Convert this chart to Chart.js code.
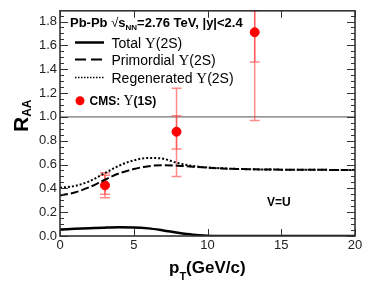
<!DOCTYPE html>
<html>
<head>
<meta charset="utf-8">
<script src="https://cdn.jsdelivr.net/npm/chart.js@4.4.1/dist/chart.umd.min.js"></script>
<style>
    html, body { margin: 0; padding: 0; background: #fff; }
    canvas { display: block; }
</style>
</head>
<body>
<canvas id="raaChart" width="374" height="296"></canvas>
<script>
// pT grid (GeV/c) for the model curves
const ptGrid = [0, 1, 2, 3, 4, 5, 6, 7, 8, 9, 10, 11, 12, 13, 14, 15, 16, 17, 18, 19, 20];
const totalY2S = [0.055, 0.060, 0.065, 0.070, 0.073, 0.072, 0.064, 0.047, 0.027, 0.011, 0.003, 0.0005, 0, 0, 0, 0, 0, 0, 0, 0, 0];
const primordialY2S = [0.340, 0.365, 0.410, 0.470, 0.525, 0.562, 0.586, 0.594, 0.590, 0.581, 0.573, 0.567, 0.563, 0.560, 0.558, 0.557, 0.556, 0.555, 0.555, 0.554, 0.554];
const regeneratedY2S = [0.405, 0.420, 0.460, 0.525, 0.590, 0.635, 0.655, 0.648, 0.612, 0.588, 0.575, 0.568, 0.563, 0.560, 0.558, 0.557, 0.556, 0.555, 0.555, 0.554, 0.554];

// CMS Upsilon(1S) points with two sets of error bars
const cmsPt = [3.05, 7.9, 13.2];
const cmsRaa = [0.425, 0.875, 1.71];
const cmsOuterLow = [0.32, 0.50, 0.97];
const cmsOuterHigh = [0.53, 1.24, 1.89];
const cmsInnerLow = [0.35, 0.73, 1.46];
const cmsInnerHigh = [0.51, 1.01, 1.97];

const yTicks = [0, 0.2, 0.4, 0.6, 0.8, 1.0, 1.2, 1.4, 1.6, 1.8];
const xTicks = [0, 5, 10, 15, 20];

const SANS = '"Liberation Sans", Arial, sans-serif';
const SERIF = '"Liberation Serif", "Times New Roman", serif';

// draw a run of text pieces, each with its own font / vertical offset
function drawRich(ctx, x, y, parts) {
    let cx = x;
    parts.forEach(p => {
        ctx.font = p.font;
        ctx.fillText(p.t, cx, y + (p.dy || 0));
        cx += ctx.measureText(p.t).width + (p.gap || 0);
    });
    return cx;
}

const framePlugin = {
    id: 'frame',
    beforeDatasetsDraw(chart) {
        const ctx = chart.ctx;
        const area = chart.chartArea;
        const xs = chart.scales.x, ys = chart.scales.y;
        ctx.save();
        ctx.beginPath();
        ctx.rect(area.left, area.top, area.right - area.left, area.bottom - area.top);
        ctx.clip();

        // reference line at 1
        ctx.strokeStyle = '#9a9a9a';
        ctx.lineWidth = 1.6;
        ctx.beginPath();
        ctx.moveTo(area.left, ys.getPixelForValue(1));
        ctx.lineTo(area.right, ys.getPixelForValue(1));
        ctx.stroke();

        // error bars
        ctx.strokeStyle = 'rgba(255, 60, 60, 0.6)';
        ctx.lineWidth = 1.5;
        const cap = 5;
        cmsPt.forEach((pt, i) => {
            const px = xs.getPixelForValue(pt);
            [[cmsOuterLow[i], cmsOuterHigh[i]], [cmsInnerLow[i], cmsInnerHigh[i]]].forEach(([lo, hi]) => {
                const yl = ys.getPixelForValue(lo), yh = ys.getPixelForValue(hi);
                ctx.beginPath();
                ctx.moveTo(px, yl); ctx.lineTo(px, yh);
                ctx.moveTo(px - cap, yl); ctx.lineTo(px + cap, yl);
                ctx.moveTo(px - cap, yh); ctx.lineTo(px + cap, yh);
                ctx.stroke();
            });
        });
        ctx.restore();
    },
    afterDraw(chart) {
        const ctx = chart.ctx;
        const area = chart.chartArea;
        const xs = chart.scales.x, ys = chart.scales.y;
        ctx.save();

        // frame
        ctx.strokeStyle = '#333';
        ctx.lineWidth = 1.6;
        ctx.strokeRect(area.left, area.top, area.right - area.left, area.bottom - area.top);

        // inward ticks
        ctx.lineWidth = 1;
        ctx.beginPath();
        for (let v = 0; v <= 1.89; v += 0.05) {
            const py = Math.round(ys.getPixelForValue(v)) + 0.5;
            const major = Math.abs(v / 0.2 - Math.round(v / 0.2)) < 1e-6;
            const len = major ? 8 : 4;
            ctx.moveTo(area.left, py); ctx.lineTo(area.left + len, py);
            ctx.moveTo(area.right, py); ctx.lineTo(area.right - len, py);
        }
        xTicks.forEach(v => {
            const px = Math.round(xs.getPixelForValue(v)) + 0.5;
            ctx.moveTo(px, area.bottom); ctx.lineTo(px, area.bottom - 7);
            ctx.moveTo(px, area.top); ctx.lineTo(px, area.top + 7);
        });
        ctx.stroke();

        ctx.fillStyle = '#000';
        ctx.textBaseline = 'alphabetic';
        ctx.textAlign = 'left';

        // header
        drawRich(ctx, 70, 26.5, [
            { t: 'Pb-Pb ', font: 'bold 13px ' + SANS },
            { t: '\u221A', font: '13px ' + SANS },
            { t: 's', font: 'bold 13px ' + SANS },
            { t: 'NN', font: 'bold 8px ' + SANS, dy: 3 },
            { t: '=2.76 TeV, |y|<2.4', font: 'bold 13px ' + SANS }
        ]);

        // legend
        const legendRows = [
            { y: 42.5, label: 'Total ', dash: [], w: 2.5 },
            { y: 59.5, label: 'Primordial ', dash: [11, 5], w: 2 },
            { y: 77.5, label: 'Regenerated ', dash: [1.5, 1.5], w: 1.5 }
        ];
        legendRows.forEach(r => {
            ctx.strokeStyle = '#000';
            ctx.lineWidth = r.w;
            ctx.setLineDash(r.dash);
            ctx.beginPath();
            ctx.moveTo(75, r.y); ctx.lineTo(104, r.y);
            ctx.stroke();
            ctx.setLineDash([]);
            drawRich(ctx, 111.5, r.y + 5, [
                { t: r.label, font: '14px ' + SANS },
                { t: '\u03A5', font: '15px ' + SERIF },
                { t: '(2S)', font: '14px ' + SANS }
            ]);
        });

        ctx.fillStyle = '#ff0000';
        ctx.beginPath();
        ctx.arc(80, 100.7, 4.5, 0, Math.PI * 2);
        ctx.fill();
        ctx.fillStyle = '#000';
        drawRich(ctx, 89.5, 105, [
            { t: 'CMS: ', font: 'bold 12px ' + SANS },
            { t: '\u03A5', font: '14px ' + SERIF },
            { t: '(1S)', font: 'bold 12px ' + SANS }
        ]);

        ctx.font = 'bold 12px ' + SANS;
        ctx.fillText('V=U', 267, 206);

        // axis titles
        drawRich(ctx, 169, 273, [
            { t: 'p', font: 'bold 17px ' + SANS },
            { t: 'T', font: 'bold 11px ' + SANS, dy: 7 },
            { t: '(GeV/c)', font: 'bold 17px ' + SANS }
        ]);

        ctx.translate(28, 132);
        ctx.rotate(-Math.PI / 2);
        drawRich(ctx, 0, 0, [
            { t: 'R', font: 'bold 21px ' + SANS },
            { t: 'AA', font: 'bold 12px ' + SANS, dy: 3 }
        ]);
        ctx.restore();
    }
};

const curve = (ys) => ptGrid.map((x, i) => ({ x: x, y: ys[i] }));

new Chart(document.getElementById('raaChart'), {
    type: 'scatter',
    data: {
        datasets: [
            {
                label: 'Total',
                data: curve(totalY2S),
                showLine: true,
                borderColor: '#000',
                borderWidth: 2.5,
                pointRadius: 0,
                cubicInterpolationMode: 'monotone'
            },
            {
                label: 'Primordial',
                data: curve(primordialY2S),
                showLine: true,
                borderColor: '#000',
                borderWidth: 2,
                borderDash: [8, 3],
                pointRadius: 0,
                cubicInterpolationMode: 'monotone'
            },
            {
                label: 'Regenerated',
                data: curve(regeneratedY2S),
                showLine: true,
                borderColor: '#000',
                borderWidth: 2,
                borderDash: [2, 2],
                pointRadius: 0,
                cubicInterpolationMode: 'monotone'
            },
            {
                label: 'CMS',
                data: cmsPt.map((x, i) => ({ x: x, y: cmsRaa[i] })),
                showLine: false,
                backgroundColor: '#ff0000',
                borderColor: '#ff0000',
                pointRadius: 4.5
            }
        ]
    },
    options: {
        responsive: false,
        animation: false,
        devicePixelRatio: 1,
        layout: { padding: { left: 0, right: 19, top: 7, bottom: 0 } },
        plugins: {
            legend: { display: false },
            tooltip: { enabled: false }
        },
        scales: {
            x: {
                type: 'linear',
                min: 0,
                max: 20,
                grid: { display: false, drawTicks: false },
                border: { display: false },
                afterFit: (scale) => { scale.height = 60; },
                afterBuildTicks: (scale) => { scale.ticks = xTicks.map(v => ({ value: v })); },
                ticks: {
                    padding: 2,
                    color: '#222',
                    font: { family: SANS, size: 13 },
                    maxRotation: 0
                }
            },
            y: {
                type: 'linear',
                min: 0,
                max: 1.89,
                grid: { display: false, drawTicks: false },
                border: { display: false },
                afterFit: (scale) => { scale.width = 60; },
                afterBuildTicks: (scale) => { scale.ticks = yTicks.map(v => ({ value: v })); },
                ticks: {
                    padding: 3,
                    color: '#222',
                    font: { family: SANS, size: 13 },
                    callback: (v) => v.toFixed(1)
                }
            }
        }
    },
    plugins: [framePlugin]
});
</script>
</body>
</html>
